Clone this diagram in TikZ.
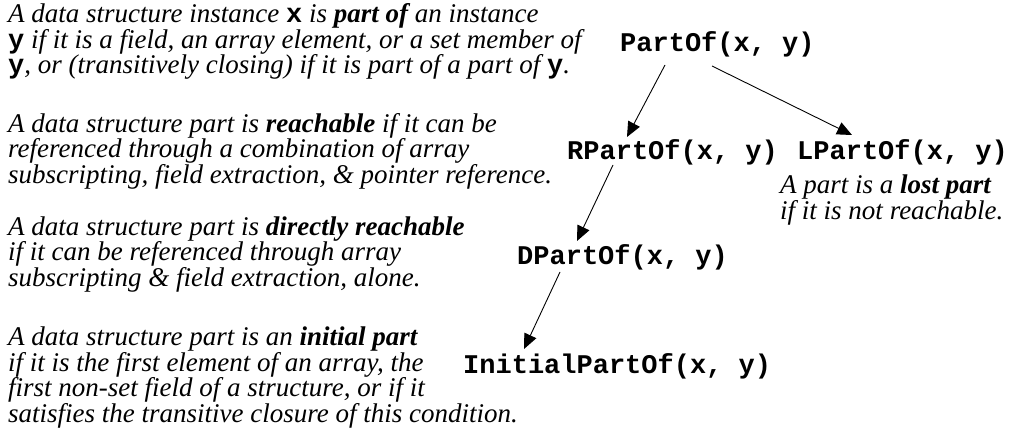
\documentclass[tikz,border=0pt]{standalone}
\usepackage{fontspec}
\setmainfont{Liberation Serif}
\setmonofont{Liberation Mono}
\usetikzlibrary{arrows.meta}

\newcommand\notefont{\fontsize{27}{25.5}\selectfont\itshape}
\newcommand\relfont{\fontsize{27}{27}\selectfont\ttfamily\bfseries}
\newcommand\cv[1]{{\ttfamily\bfseries\upshape #1}}

\begin{document}
\begin{tikzpicture}[x=1pt, y=-1pt,
  every node/.style={inner sep=0pt, anchor=base west},
  note/.style={font=\notefont, align=left},
  rel/.style={font=\relfont},
  imp/.style={-{Triangle[length=15pt,width=13pt]}, line width=0.9pt}]
  \useasboundingbox (0,0) rectangle (1011,433);

  % definitions on the left (placed by the baseline of their last line)
  \node[note] (defpart) at (8,74) {A data structure instance \cv{x} is \textbf{part of} an instance\\
    \cv{y} if it is a field, an array element, or a set member of\\
    \cv{y}, or (transitively closing) if it is part of a part of \cv{y}.};
  \node[note] (defreach) at (8,183) {A data structure part is \textbf{reachable} if it can be\\
    referenced through a combination of array\\
    subscripting, field extraction, \& pointer reference.};
  \node[note] (defdirect) at (8,286) {A data structure part is \textbf{directly reachable}\\
    if it can be referenced through array\\
    subscripting \& field extraction, alone.};
  \node[note] (definit) at (8,422) {A data structure part is an \textbf{initial part}\\
    if it is the first element of an array, the\\
    first non-set field of a structure, or if it\\
    satisfies the transitive closure of this condition.};
  \node[note] (deflost) at (780,219) {A part is a \textbf{lost part}\\
    if it is not reachable.};

  % the relations
  \foreach \n/\t/\p in {part/PartOf/{620,52}, rpart/RPartOf/{567,159},
      lpart/LPartOf/{797,159}, dpart/DPartOf/{517,264}, ipart/InitialPartOf/{463,373}}
    \node[rel] (\n) at (\p) {\t(x, y)};

  \foreach \a/\sa/\b/\sb in {part/{45,13}/rpart/{60,-22}, part/{92,14}/lpart/{55,-24},
      rpart/{46,6}/dpart/{60,-23}, dpart/{43,8}/ipart/{61,-24}}
    \draw[imp] ([shift={(\sa)}]\a.base west) -- ([shift={(\sb)}]\b.base west);
\end{tikzpicture}
\end{document}
